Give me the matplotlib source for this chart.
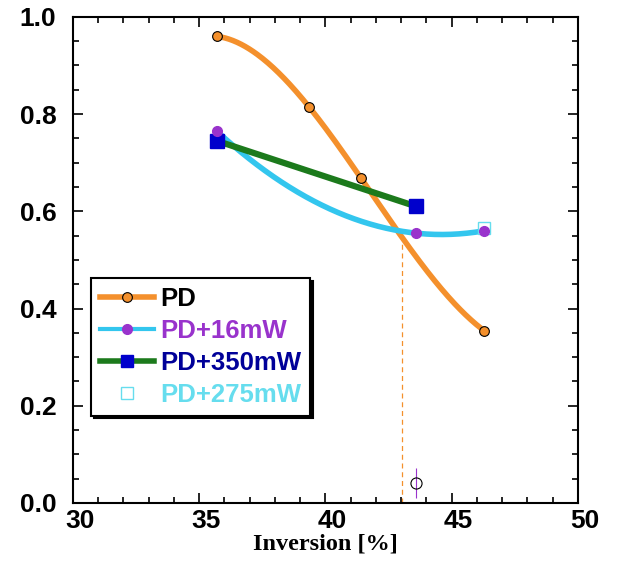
import numpy as np
import matplotlib
matplotlib.use('Agg')
import matplotlib.pyplot as plt
import matplotlib.transforms as mtransforms
from matplotlib.ticker import MultipleLocator
from matplotlib.lines import Line2D

# data
pd_x = [35.7, 39.35, 41.4, 46.3]
pd_y = [0.96, 0.815, 0.669, 0.354]

mw16_x = [35.7, 43.6, 46.3]
mw16_y = [0.765, 0.555, 0.56]

mw350_x = [35.7, 43.6]
mw350_y = [0.745, 0.61]

mw275_x = [46.3]
mw275_y = [0.565]

single_x = [43.6]
single_y = [0.041]
single_err = [0.03]

cross_x = 43.05
cross_y = 0.555

orange = '#F4902C'
cyan = '#33C6EE'
green = '#1C7A1C'
blue = '#0000CC'
purple = '#9933CC'
light = '#66DDEE'

plt.rcParams['font.family'] = ['Liberation Sans', 'DejaVu Sans']

fig = plt.figure(figsize=(6.18, 5.62), dpi=100)
ax = fig.add_axes([0.118, 0.105, 0.817, 0.865])

# smooth curves through the points
p3 = np.polyfit(pd_x, pd_y, 3)
t = np.linspace(min(pd_x), max(pd_x), 200)
ax.plot(t, np.polyval(p3, t), color=orange, lw=4, solid_capstyle='round', zorder=2)
ax.plot(pd_x, pd_y, ls='', marker='o', ms=7, mfc=orange, mec='black', mew=0.8, zorder=5)

p2 = np.polyfit(mw16_x, mw16_y, 2)
t2 = np.linspace(min(mw16_x), max(mw16_x), 200)
ax.plot(t2, np.polyval(p2, t2), color=cyan, lw=4, solid_capstyle='round', zorder=3)

ax.plot(mw350_x, mw350_y, color=green, lw=4.5, zorder=3)
ax.plot(mw350_x, mw350_y, ls='', marker='s', ms=10, mfc=blue, mec=blue, zorder=6)

ax.plot(mw275_x, mw275_y, ls='', marker='s', ms=9, mfc='white', mec=light, mew=1, zorder=4)
ax.plot(mw16_x, mw16_y, ls='', marker='o', ms=7, mfc=purple, mec=purple, zorder=7)

ax.errorbar(single_x, single_y, yerr=single_err, fmt='o', ms=8, mfc='none',
            mec='black', mew=0.8, ecolor=purple, elinewidth=0.8, capsize=0, zorder=5)

ax.plot([cross_x, cross_x], [0, cross_y], color=orange, ls='--', lw=0.9, dashes=(4, 3), zorder=1)

ax.set_xlim(30, 50)
ax.set_ylim(0, 1.0)
ax.xaxis.set_major_locator(MultipleLocator(5))
ax.xaxis.set_minor_locator(MultipleLocator(1))
ax.yaxis.set_major_locator(MultipleLocator(0.2))
ax.yaxis.set_minor_locator(MultipleLocator(0.05))
ax.tick_params(which='both', direction='in', top=True, right=True, width=1.2)
ax.tick_params(which='major', length=7, labelsize=19)
ax.tick_params(axis='y', which='major', pad=12)
ax.tick_params(axis='x', which='major', pad=4)
ax.tick_params(which='minor', length=4)
ax.yaxis.set_major_formatter(matplotlib.ticker.FormatStrFormatter('%.1f'))
shift = mtransforms.ScaledTranslation(7 / 100, 0, fig.dpi_scale_trans)
for lab in ax.get_xticklabels():
    lab.set_transform(lab.get_transform() + shift)
for lab in ax.get_xticklabels() + ax.get_yticklabels():
    lab.set_fontweight('bold')
for s in ax.spines.values():
    s.set_linewidth(1.5)

ax.set_xlabel('Inversion [%]', fontsize=17.5, fontweight='bold',
              family=['Liberation Serif', 'DejaVu Serif'], labelpad=1)

handles = [
    Line2D([], [], color=orange, lw=4, marker='o', ms=7, mfc=orange, mec='black', mew=0.8),
    Line2D([], [], color=cyan, lw=3, marker='o', ms=7, mfc=purple, mec=purple),
    Line2D([], [], color=green, lw=4, marker='s', ms=9, mfc=blue, mec=blue),
    Line2D([], [], ls='', marker='s', ms=8, mfc='white', mec=light, mew=1),
]
labels = ['PD', 'PD+16mW', 'PD+350mW', 'PD+275mW']
leg = ax.legend(handles, labels, loc='upper left', bbox_to_anchor=(0.036, 0.462),
                borderaxespad=0, fancybox=False, shadow={'color': 'black', 'alpha': 1},
                framealpha=1, edgecolor='black', handlelength=2.1, handletextpad=0.25,
                labelspacing=0.3, borderpad=0.35, prop={'size': 18.5, 'weight': 'bold'})
leg.get_frame().set_linewidth(1.5)
for txt, c in zip(leg.get_texts(), ['black', purple, '#000099', light]):
    txt.set_color(c)

fig.savefig('out.png', dpi=100)
